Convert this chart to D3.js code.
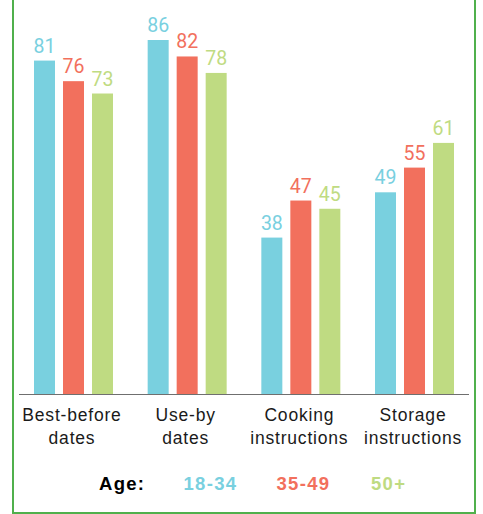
<!DOCTYPE html>
<html>
<head>
<meta charset="utf-8">
<script src="https://cdn.jsdelivr.net/npm/d3@7/dist/d3.min.js"></script>
<style>
  html, body { margin: 0; padding: 0; background: #fff; }
  svg { display: block; }
</style>
</head>
<body>
<svg id="chart" width="483" height="514"></svg>
<script>
// Share of respondents who check each kind of label, by age group (%)
const categories = [["Best-before", "dates"], ["Use-by", "dates"], ["Cooking", "instructions"], ["Storage", "instructions"]];
const categoryKeys = ["best", "useby", "cooking", "storage"];
const ageGroups = ["18-34", "35-49", "50+"];
const age18to34 = [81, 86, 38, 49];
const age35to49 = [76, 82, 47, 55];
const age50plus = [73, 78, 45, 61];

const seriesValues = [age18to34, age35to49, age50plus];
const colors = ["#79d0df", "#f2705d", "#bfdb82"];

const svg = d3.select("#chart");

// Frame: green rule on left, right and bottom
const frameColor = "#50b04c";
svg.append("line").attr("x1", 13).attr("x2", 13).attr("y1", 0).attr("y2", 513)
  .attr("stroke", frameColor).attr("stroke-width", 2);
svg.append("line").attr("x1", 475).attr("x2", 475).attr("y1", 0).attr("y2", 513)
  .attr("stroke", frameColor).attr("stroke-width", 2);
svg.append("line").attr("x1", 12).attr("x2", 476).attr("y1", 513).attr("y2", 513)
  .attr("stroke", frameColor).attr("stroke-width", 2);

const baseline = 394;
const x0 = d3.scaleBand().domain(categoryKeys).range([34, 454]).paddingInner(0.305).paddingOuter(0);
const x1 = d3.scaleBand().domain(ageGroups).range([0, x0.bandwidth()]).paddingInner(8 / 29).paddingOuter(0);
const y = d3.scaleLinear().domain([0, 86]).range([baseline, 40]);

const rows = categoryKeys.map((k, i) => ({
  key: k,
  label: categories[i],
  values: ageGroups.map((g, j) => ({ group: g, value: seriesValues[j][i], color: colors[j] }))
}));

const groups = svg.append("g").selectAll("g").data(rows).join("g")
  .attr("transform", d => `translate(${x0(d.key)},0)`);

groups.selectAll("rect").data(d => d.values).join("rect")
  .attr("x", d => x1(d.group))
  .attr("y", d => y(d.value))
  .attr("width", x1.bandwidth())
  .attr("height", d => baseline - y(d.value))
  .attr("fill", d => d.color);

groups.selectAll("text.val").data(d => d.values).join("text")
  .attr("class", "val")
  .attr("x", d => x1(d.group) + x1.bandwidth() / 2)
  .attr("y", d => y(d.value) - 8)
  .attr("text-anchor", "middle")
  .attr("font-family", "Roboto, sans-serif")
  .attr("font-size", 19.5)
  .attr("fill", d => d.color)
  .text(d => d.value);

// Baseline axis
svg.append("line").attr("x1", 19).attr("x2", 469).attr("y1", baseline + 0.5).attr("y2", baseline + 0.5)
  .attr("stroke", "#6f6f6f").attr("stroke-width", 1.2);

// Category labels (two lines each)
const catLabels = svg.append("g").selectAll("text").data(rows).join("text")
  .attr("text-anchor", "middle")
  .attr("font-family", "'Liberation Sans', Arial, sans-serif")
  .attr("font-size", 17.5)
  .attr("letter-spacing", 0.8)
  .attr("fill", "#1a1a1a");
catLabels.selectAll("tspan").data(d => d.label.map(t => ({ t, cx: x0(d.key) + x0.bandwidth() / 2 - 1.5 }))).join("tspan")
  .attr("x", d => d.cx)
  .attr("y", (d, i) => 421 + i * 23)
  .text(d => d.t);

// Legend
const legend = svg.append("g")
  .attr("font-family", "'Liberation Sans', Arial, sans-serif")
  .attr("font-weight", "bold")
  .attr("font-size", 18.5)
  .attr("letter-spacing", 1.3);
legend.append("text").attr("x", 99).attr("y", 490).attr("fill", "#000").text("Age:");
const legendX = [183.5, 276.5, 371];
legend.selectAll("text.key").data(ageGroups).join("text")
  .attr("class", "key")
  .attr("x", (d, i) => legendX[i])
  .attr("y", 490)
  .attr("fill", (d, i) => colors[i])
  .text(d => d);
</script>
</body>
</html>
